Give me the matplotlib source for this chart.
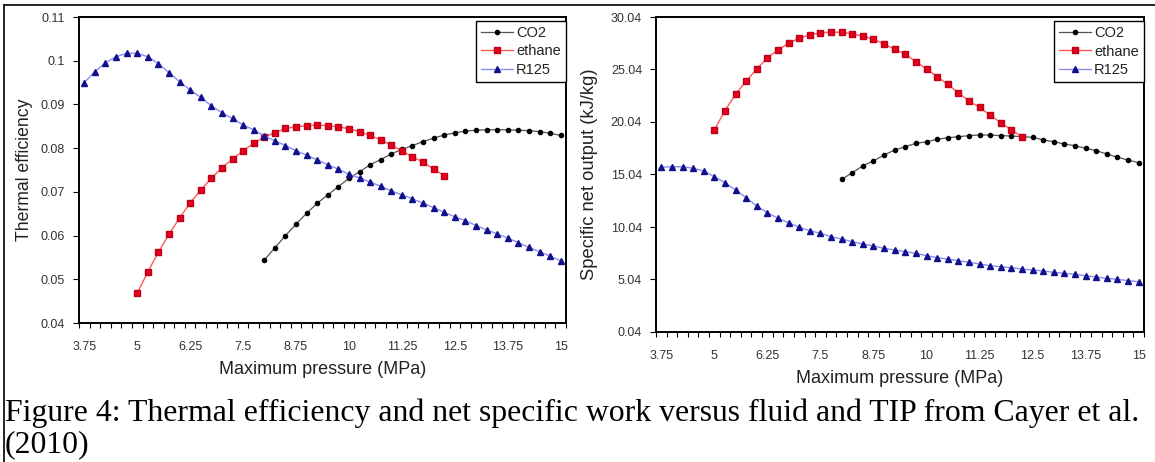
import numpy as np
import matplotlib
matplotlib.use("Agg")
import matplotlib.pyplot as plt

plt.rcParams['font.family'] = ['Liberation Sans', 'DejaVu Sans']

# pressure grids (MPa), 0.25 MPa steps
p_r125 = np.arange(3.75, 15.001, 0.25)
p_eth = np.arange(5.0, 12.251, 0.25)
p_co2 = np.arange(8.0, 15.001, 0.25)

# thermal efficiency
eff_co2 = [0.0544, 0.0572, 0.0600, 0.0626, 0.0651, 0.0674, 0.0693, 0.0712, 0.0731,
           0.0746, 0.0762, 0.0774, 0.0787, 0.0797, 0.0806, 0.0815, 0.0823, 0.0830,
           0.0835, 0.0839, 0.0841, 0.0842, 0.0842, 0.0842, 0.0841, 0.0840, 0.0838,
           0.0834, 0.0829]
eff_eth = [0.0468, 0.0517, 0.0562, 0.0603, 0.0640, 0.0675, 0.0704, 0.0731, 0.0755,
           0.0775, 0.0794, 0.0811, 0.0826, 0.0835, 0.0845, 0.0849, 0.0851, 0.0853,
           0.0851, 0.0849, 0.0844, 0.0838, 0.0829, 0.0819, 0.0807, 0.0794, 0.0780,
           0.0768, 0.0752, 0.0737]
eff_r125 = [0.0950, 0.0975, 0.0995, 0.1009, 0.1017, 0.1017, 0.1009, 0.0993, 0.0973,
            0.0952, 0.0933, 0.0916, 0.0897, 0.0881, 0.0868, 0.0853, 0.0842, 0.0828,
            0.0817, 0.0806, 0.0794, 0.0784, 0.0773, 0.0762, 0.0752, 0.0740, 0.0732,
            0.0722, 0.0713, 0.0702, 0.0693, 0.0684, 0.0674, 0.0664, 0.0653, 0.0643,
            0.0634, 0.0623, 0.0613, 0.0604, 0.0594, 0.0584, 0.0573, 0.0563, 0.0553,
            0.0542]

# specific net output (kJ/kg)
work_co2 = [14.58, 15.21, 15.87, 16.34, 16.90, 17.37, 17.69, 18.01, 18.16, 18.39,
            18.54, 18.64, 18.74, 18.80, 18.80, 18.74, 18.71, 18.64, 18.58, 18.33,
            18.16, 17.94, 17.78, 17.54, 17.31, 16.99, 16.68, 16.42, 16.16]
work_eth = [19.28, 21.12, 22.68, 23.94, 25.09, 26.16, 26.90, 27.54, 28.01, 28.33,
            28.55, 28.59, 28.59, 28.42, 28.23, 27.92, 27.47, 26.96, 26.49, 25.78,
            25.09, 24.35, 23.63, 22.83, 22.04, 21.44, 20.71, 19.97, 19.28, 18.64]
work_r125 = [15.73, 15.78, 15.78, 15.63, 15.37, 14.83, 14.26, 13.56, 12.83, 12.04,
             11.40, 10.86, 10.45, 10.01, 9.69, 9.44, 9.12, 8.90, 8.64, 8.42,
             8.23, 8.01, 7.85, 7.69, 7.53, 7.31, 7.12, 6.99, 6.83, 6.68,
             6.52, 6.35, 6.26, 6.16, 6.04, 5.94, 5.85, 5.72, 5.63, 5.53,
             5.40, 5.28, 5.15, 5.06, 4.93, 4.83]

xtick_vals = [3.75, 5, 6.25, 7.5, 8.75, 10, 11.25, 12.5, 13.75, 15]
xtick_labels = ['3.75', '5', '6.25', '7.5', '8.75', '10', '11.25', '12.5', '13.75', '15']
eff_ticks = [0.04, 0.05, 0.06, 0.07, 0.08, 0.09, 0.10, 0.11]
eff_labels = ['0.04', '0.05', '0.06', '0.07', '0.08', '0.09', '0.1', '0.11']
work_ticks = [0.04, 5.04, 10.04, 15.04, 20.04, 25.04, 30.04]
work_labels = ['0.04', '5.04', '10.04', '15.04', '20.04', '25.04', '30.04']

fig = plt.figure(figsize=(11.55, 4.62), dpi=100)
ax1 = fig.add_axes([79/1155, 1-323/462, 487/1155, 306/462])
ax2 = fig.add_axes([656/1155, 1-332/462, 488/1155, 315/462])


def draw(ax, co2, eth, r125):
    ax.plot(p_co2, co2, color='#555555', lw=0.9, marker='o', ms=3.0,
            mfc='black', mec='black', label='CO2', zorder=3)
    ax.plot(p_eth, eth, color='#ff5a5a', lw=1.0, marker='s', ms=3.8,
            mfc='#e5001c', mec='#c00018', label='ethane', zorder=3)
    ax.plot(p_r125, r125, color='#8c8cf2', lw=1.0, marker='^', ms=3.8,
            mfc='#10108a', mec='#10108a', label='R125', zorder=3)
    ax.set_xlim(3.625, 15.1)
    ax.set_xticks(xtick_vals)
    ax.set_xticklabels(xtick_labels)
    ax.set_xticks(np.arange(3.625, 15.13, 0.25), minor=True)
    ax.tick_params(axis='x', which='major', length=0, pad=13, labelsize=9,
                   labelcolor='#333333')
    ax.tick_params(axis='x', which='minor', length=3.5, width=0.8, direction='out')
    ax.tick_params(axis='y', length=4, width=0.8, direction='out', pad=6,
                   labelsize=9, labelcolor='#333333')
    for s in ax.spines.values():
        s.set_linewidth(1.4)
        s.set_color('black')
    leg = ax.legend(loc='upper right', bbox_to_anchor=(1.0, 0.987), borderaxespad=0,
                    fontsize=10.5, frameon=True, fancybox=False, framealpha=1,
                    edgecolor='black', handlelength=2.2, handletextpad=0.2,
                    borderpad=0.35, labelspacing=0.3)
    leg.get_frame().set_linewidth(1.0)
    for t in leg.get_texts():
        t.set_color('#222222')
    ax.set_xlabel('Maximum pressure (MPa)', fontsize=13, color='#222222')


draw(ax1, eff_co2, eff_eth, eff_r125)
ax1.set_ylim(0.04, 0.11)
ax1.set_yticks(eff_ticks)
ax1.set_yticklabels(eff_labels)
ax1.set_ylabel('Thermal efficiency', fontsize=12.7, color='#222222')
ax1.yaxis.set_label_coords(-0.094, 0.5)
ax1.xaxis.set_label_coords(0.5, -0.124)

draw(ax2, work_co2, work_eth, work_r125)
ax2.set_ylim(0.04, 30.04)
ax2.set_yticks(work_ticks)
ax2.set_yticklabels(work_labels)
ax2.set_ylabel('Specific net output (kJ/kg)', fontsize=13.2, color='#222222')
ax2.yaxis.set_label_coords(-0.119, 0.5)
ax2.xaxis.set_label_coords(0.5, -0.121)

# caption and cell border
serif = ['Liberation Serif', 'DejaVu Serif']
fig.text(5/1155, 1-421/462, 'Figure 4: Thermal efficiency and net specific work versus fluid and TIP from Cayer et al.',
         family=serif, fontsize=22.9, va='baseline', ha='left')
fig.text(5/1155, 1-452/462, '(2010)', family=serif, fontsize=22.9, va='baseline', ha='left')
fig.add_artist(plt.Line2D([4/1155, 1], [1-5/462, 1-5/462], color='black', lw=1.2))
fig.add_artist(plt.Line2D([4/1155, 4/1155], [0, 1-5/462], color='black', lw=1.2))

fig.savefig('out.png', dpi=100)
